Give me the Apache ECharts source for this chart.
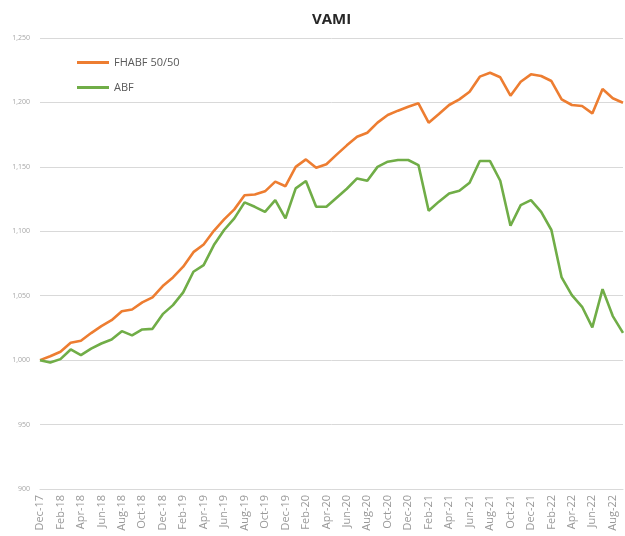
<!DOCTYPE html>
<html>
<head>
<meta charset="utf-8">
<script src="https://cdn.jsdelivr.net/npm/echarts@6/dist/echarts.min.js"></script>
<style>html,body{margin:0;padding:0;background:#fff;}#c{width:625px;height:536px;}</style>
</head>
<body>
<div id="c"></div>
<script>
const months = ["Dec-17","Jan-18","Feb-18","Mar-18","Apr-18","May-18","Jun-18","Jul-18","Aug-18","Sep-18","Oct-18","Nov-18",
"Dec-18","Jan-19","Feb-19","Mar-19","Apr-19","May-19","Jun-19","Jul-19","Aug-19","Sep-19","Oct-19","Nov-19",
"Dec-19","Jan-20","Feb-20","Mar-20","Apr-20","May-20","Jun-20","Jul-20","Aug-20","Sep-20","Oct-20","Nov-20",
"Dec-20","Jan-21","Feb-21","Mar-21","Apr-21","May-21","Jun-21","Jul-21","Aug-21","Sep-21","Oct-21","Nov-21",
"Dec-21","Jan-22","Feb-22","Mar-22","Apr-22","May-22","Jun-22","Jul-22","Aug-22","Sep-22"];

const fhabf = [1000,1003,1006.5,1013.5,1015,1021,1026.4,1031,1038,1039.3,1044.8,1048.7,
1057.5,1064.2,1072.5,1083.8,1089.8,1100.4,1109.2,1117,1128,1128.6,1131,1138.5,
1135,1150,1155.8,1149.3,1152,1159.5,1166.7,1173.4,1176.5,1184.3,1190.2,1193.6,
1196.7,1199.3,1184.3,1191,1198,1202.4,1208.3,1220,1223,1219.5,1205.2,1216.1,
1221.8,1220.5,1216.6,1202.4,1198,1197.2,1191.5,1210.4,1203.2,1199.8];

const abf = [1000,998.2,1000.8,1008.3,1003.9,1009,1012.9,1016,1022.5,1019.2,1023.8,1024.3,
1035.7,1042.7,1052.6,1068.6,1073.8,1089.3,1101,1110,1122.4,1119,1115.1,1124.2,
1110,1133.3,1139,1119,1119,1126,1133,1141,1139.2,1150,1154,1155.3,
1155.3,1151.4,1116,1123,1129.4,1131.5,1137.7,1154.5,1154.5,1139.2,1104.3,1120.3,
1124.2,1115.1,1101,1064.2,1050.5,1041.4,1025.4,1055.1,1034.2,1021.2];

const seriesNames = ["FHABF 50/50","ABF"];
const colors = ["#ED7D31","#70AD47"];

const chart = echarts.init(document.getElementById('c'), null, {renderer:'canvas'});
chart.setOption({
  animation:false,
  backgroundColor:'#fff',
  title:{text:'VAMI',left:307,top:7,textStyle:{fontFamily:'Open Sans',fontSize:15,fontWeight:'bold',color:'#262626'}},
  legend:{
    orient:'vertical',left:72,top:52,itemGap:14,itemWidth:32,itemHeight:3,icon:'rect',
    textStyle:{fontFamily:'Open Sans',fontSize:11,color:'#595959'},
    data:seriesNames
  },
  grid:{left:40,right:2,top:38,bottom:47,containLabel:false},
  xAxis:{
    type:'category',data:months,boundaryGap:false,
    axisLine:{lineStyle:{color:'#d9d9d9'}},
    axisTick:{show:false},
    axisLabel:{interval:1,rotate:90,color:'#999999',fontFamily:'Open Sans',fontSize:11,margin:6}
  },
  yAxis:{
    type:'value',min:900,max:1250,interval:50,
    axisLine:{show:false},axisTick:{show:false},
    splitLine:{lineStyle:{color:'#d9d9d9',width:1}},
    axisLabel:{color:'#a6a6a6',fontFamily:'Open Sans',fontSize:7,margin:10,
      formatter:v=>v.toLocaleString('en-US')}
  },
  series:[
    {name:seriesNames[0],type:'line',data:fhabf,symbol:'none',lineStyle:{width:2.6,color:colors[0]},itemStyle:{color:colors[0]}},
    {name:seriesNames[1],type:'line',data:abf,symbol:'none',lineStyle:{width:2.6,color:colors[1]},itemStyle:{color:colors[1]}}
  ]
});
</script>
</body>
</html>
